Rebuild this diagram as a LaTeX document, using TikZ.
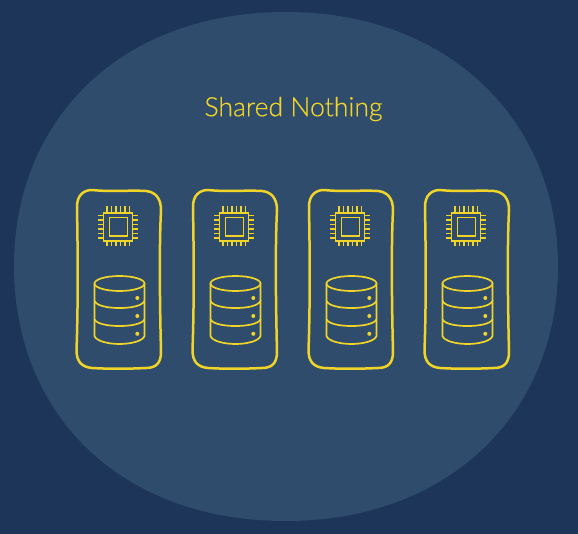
\documentclass[tikz,border=0pt]{standalone}
\usepackage{fontspec}
\setmainfont{Lato Light}[FakeBold=0.4]
\definecolor{bgc}{HTML}{1C3558}
\definecolor{blobc}{HTML}{304C6D}
\definecolor{ylw}{HTML}{F0D428}
\tikzset{
  boxline/.style={draw=ylw,line width=2.5pt,line cap=round,line join=round},
  iconline/.style={draw=ylw,line width=1.7pt,line cap=round,line join=round},
  chipline/.style={draw=ylw,line width=1.5pt,line join=miter},
  pinline/.style={draw=ylw,line width=1.35pt},
  unit/.pic={
    \draw[boxline] (77,208) .. controls (76.5,195) and (84,190) .. (92,190)
      .. controls (110,192) and (130,190) .. (146,191)
      .. controls (156,192) and (161,199) .. (161,210)
      .. controls (159,250) and (160,310) .. (161,352)
      .. controls (161,363) and (156,368) .. (146,368)
      .. controls (125,369) and (110,369) .. (92,368)
      .. controls (82,367) and (76.5,362) .. (76.5,350)
      .. controls (78,310) and (78,260) .. (77,208) -- cycle;
    \draw[chipline] (103.5,213) rectangle (132.5,241);
    \draw[chipline] (109.5,217.5) rectangle (127.5,236);
    \foreach \k in {0,...,5}{
      \draw[pinline] ({107+\k*4.5},206.5) -- ({107+\k*4.5},213);
      \draw[pinline] ({107+\k*4.5},241) -- ({107+\k*4.5},246.5);
      \draw[pinline] (98,{215.5+\k*4.5}) -- (103.5,{215.5+\k*4.5});
      \draw[pinline] (132.5,{215.5+\k*4.5}) -- (138,{215.5+\k*4.5});
    }
    \draw[iconline] (119.5,283.5) ellipse [x radius=25,y radius=7.5];
    \draw[iconline] (94.5,283.5) -- (94.5,336) .. controls (96,341) and (108,344) .. (119.5,344)
      .. controls (131,344) and (143,341) .. (144.5,336) -- (144.5,283.5);
    \draw[iconline] (94.5,301) .. controls (97,306) and (108,308) .. (119.5,308)
      .. controls (131,308) and (142,306) .. (144.5,301);
    \draw[iconline] (94.5,319.5) .. controls (97,324) and (108,326) .. (119.5,326)
      .. controls (131,326) and (142,324) .. (144.5,319.5);
    \fill[ylw] (137.3,298) circle (2) (137.3,316) circle (2) (137.3,333.8) circle (2);
  }
}
\begin{document}
\begin{tikzpicture}[x=1pt,y=-1pt]
\useasboundingbox (0,0) rectangle (578,534);
\fill[bgc] (0,0) rectangle (578,534);
\fill[blobc] (14,266) .. controls (14,122) and (118,12) .. (286,12)
  .. controls (450,12) and (558,122) .. (558,266)
  .. controls (558,412) and (450,521) .. (286,521)
  .. controls (118,521) and (14,412) .. (14,266) -- cycle;
\node[text=ylw,font=\fontsize{26.6}{30}\selectfont,inner sep=0pt] (title) at (293.5,109) {Shared Nothing};
\pic at (0,0) {unit};
\pic at (116,0) {unit};
\pic at (232,0) {unit};
\pic at (348,0) {unit};
\end{tikzpicture}
\end{document}
